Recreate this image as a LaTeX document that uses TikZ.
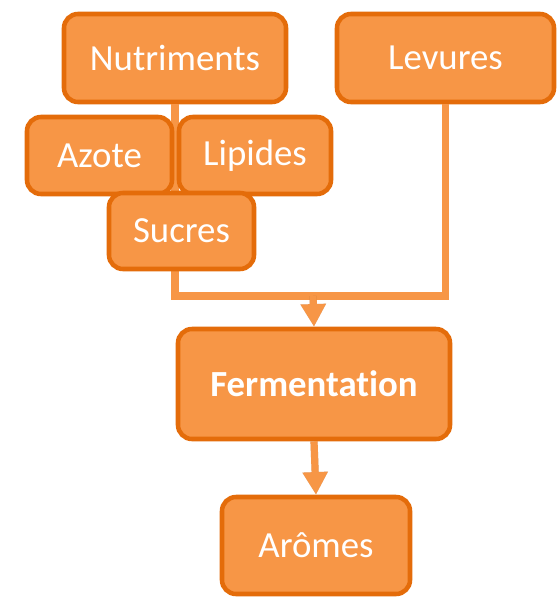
\documentclass[tikz,border=0pt]{standalone}
\usepackage{fontspec}
\setmainfont[Ligatures=CommonOff]{Carlito}
\usetikzlibrary{arrows.meta}
\definecolor{boxfill}{HTML}{F79646}
\definecolor{boxline}{HTML}{E46C0A}
\definecolor{linkcol}{HTML}{F79646}
\tikzset{
  box/.style={draw=boxline, fill=boxfill, line width=3.4pt, rounded corners=10.5pt,
    text=white, font=\fontsize{27.6}{32}\selectfont, inner sep=0pt},
  link/.style={draw=linkcol, line width=5.4pt},
  linkshadow/.style={draw=black, opacity=0.18, line width=5.4pt},
  arrowhead/.style={-{Triangle[length=17pt,width=18pt]}}
}
\begin{document}
\begin{tikzpicture}[x=0.75pt,y=-0.75pt]
\useasboundingbox (0,0) rectangle (560,603);

% top boxes
\node[box, minimum width=166.5pt, minimum height=66pt] (nutr) at (175,58) {Nutriments};
\node[box, minimum width=162.75pt, minimum height=66pt] (lev) at (445.5,58) {Levures};

% junction points of the feeding line
\coordinate (jl) at (nutr.south |- 0,296);
\coordinate (jr) at (lev.south |- 0,296);
\coordinate (j) at (313,296);

% feeding line, shadow first
\begin{scope}[shift={(1.5,2)}]
  \draw[linkshadow, line join=miter] (nutr.south) -- (jl) -- (jr) -- (lev.south);
\end{scope}
\draw[link, line join=miter] (nutr.south) -- (jl) -- (jr) -- (lev.south);

% nutrient boxes over the line
\node[box, minimum width=108.75pt, minimum height=57.75pt] (azote) at (99.5,155.5) {Azote};
\node[box, minimum width=114pt, minimum height=57.75pt] (lip) at (255,155.5) {Lipides};
\node[box, minimum width=108.75pt, minimum height=57pt] (sucres) at (181.5,231) {Sucres};

% process boxes
\node[box, minimum width=204pt, minimum height=82.5pt, font=\fontsize{27.6}{32}\selectfont\bfseries] (ferm) at (314,384) {Fermentation};
\node[box, minimum width=141pt, minimum height=72.75pt] (arom) at (316,545.5) {Arômes};

% arrows
\begin{scope}[shift={(1.5,2)}]
  \draw[linkshadow, arrowhead, fill=black] (j) -- (ferm.north);
  \draw[linkshadow, arrowhead, fill=black] (ferm.south) -- (arom.north);
\end{scope}
\draw[link, arrowhead, fill=linkcol] (j) -- (ferm.north);
\draw[link, arrowhead, fill=linkcol] (ferm.south) -- (arom.north);
\end{tikzpicture}
\end{document}
